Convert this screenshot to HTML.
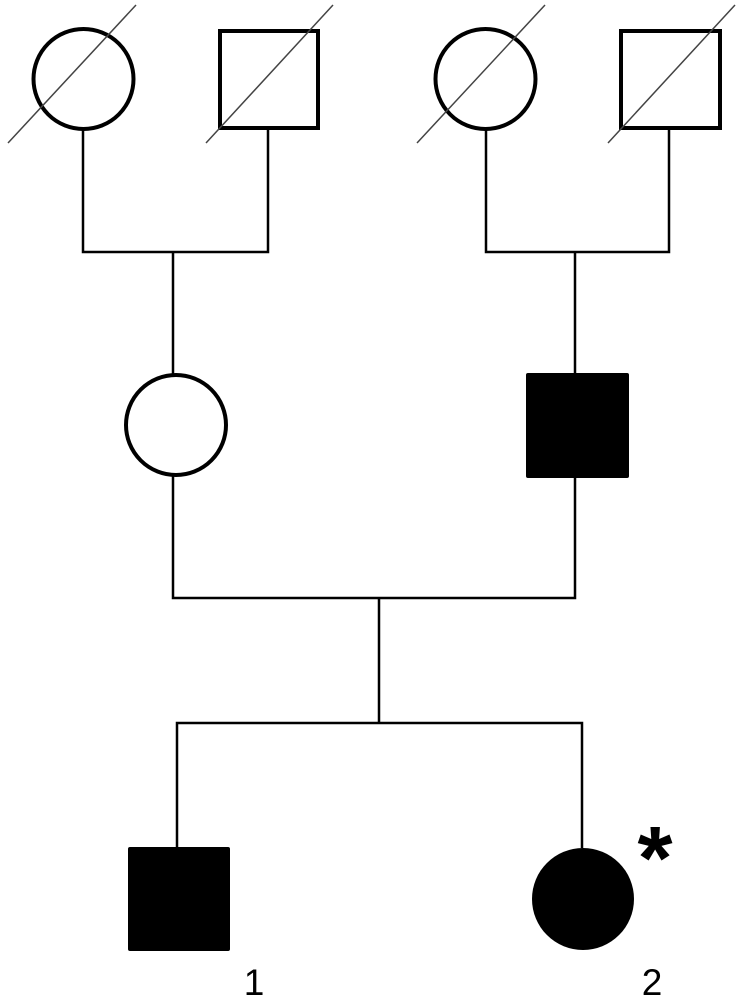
<!DOCTYPE html>
<html><head><style>html,body{margin:0;padding:0;background:#fff}</style></head>
<body>
<svg width="750" height="999" viewBox="0 0 750 999" xmlns="http://www.w3.org/2000/svg">
<g fill="none" stroke="#000">
<g stroke-width="2.5">
<polyline points="83,129 83,252 268,252 268,129"/>
<line x1="173" y1="252" x2="173" y2="375"/>
<polyline points="486,129 486,252 669,252 669,129"/>
<line x1="575" y1="252" x2="575" y2="374"/>
<polyline points="173,476 173,598 575,598 575,477"/>
<line x1="379" y1="598" x2="379" y2="723"/>
<polyline points="177,847 177,723 582,723 582,848"/>
</g>
<g stroke-width="4">
<circle cx="83.5" cy="79" r="50"/>
<rect x="220" y="31" width="98" height="97"/>
<circle cx="485.5" cy="79" r="50"/>
<rect x="621" y="31" width="99" height="97"/>
<circle cx="176" cy="425" r="50"/>
</g>
<g stroke="#444" stroke-width="1.5">
<line x1="8" y1="143" x2="136" y2="5"/>
<line x1="206" y1="143" x2="333" y2="5"/>
<line x1="417" y1="143" x2="545" y2="5"/>
<line x1="608" y1="143" x2="735" y2="5"/>
</g>
</g>
<rect x="526" y="373" width="103" height="105" rx="2" fill="#000"/>
<rect x="128" y="847" width="102" height="104" rx="2" fill="#000"/>
<circle cx="583" cy="899" r="51" fill="#000"/>
<text x="655" y="889" font-family="Liberation Sans, sans-serif" font-size="90" font-weight="bold" text-anchor="middle">*</text>
<text x="254" y="995" font-family="Liberation Sans, sans-serif" font-size="37" text-anchor="middle">1</text>
<text x="652" y="995" font-family="Liberation Sans, sans-serif" font-size="37" text-anchor="middle">2</text>
</svg>
</body></html>
